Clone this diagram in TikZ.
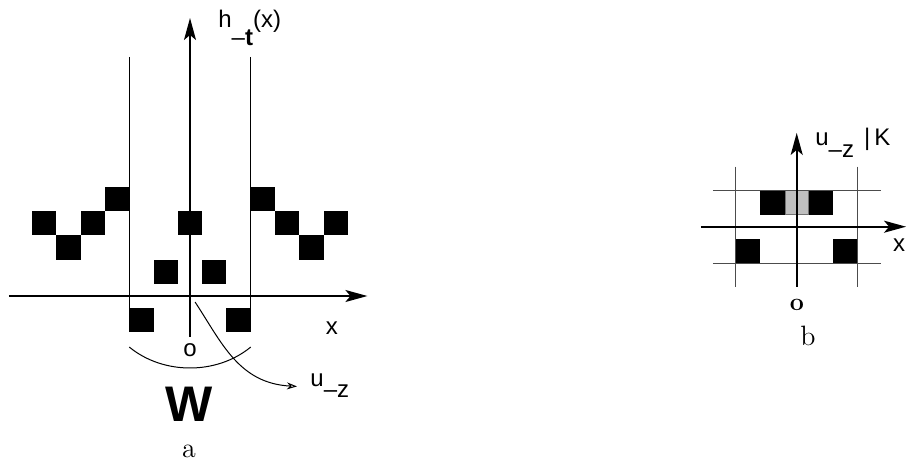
\documentclass[tikz,border=0pt]{standalone}
\usepackage{fontspec}
\newfontfamily\helv{Liberation Sans}
\usetikzlibrary{arrows.meta}

\begin{document}
\begin{tikzpicture}[
  x=12.15pt, y=12.15pt,
  cell/.style={rectangle, fill=black, minimum size=12.15pt, inner sep=0pt},
  paleCell/.style={cell, fill=black!25, draw=black!55, line width=0.4pt, minimum size=11.7pt},
  axis/.style={-{Stealth[length=11pt, width=6pt, inset=2.5pt]}, line width=0.8pt},
  wall/.style={line width=0.7pt},
  gridLine/.style={line width=0.5pt, draw=black!70},
  thinArrow/.style={-{Stealth[length=5pt, width=3.5pt, open]}, line width=0.5pt},
  lbl/.style={font=\helv\fontsize{12}{14}\selectfont, inner sep=0pt},
  caption/.style={font=\fontsize{14}{16}\selectfont, inner sep=0pt}
]
\useasboundingbox (-7.819,-6.790) rectangle (29.547,12.181);

% picture a: the height profile and the window W
\coordinate (yaLow) at (0,-1.68);
\coordinate (yaTop) at (0,11.44);
\coordinate (xaLeft) at (-7.45,0);
\coordinate (xaRight) at (7.3,0);
\coordinate (wallLtop) at (-2.5,9.84);
\coordinate (wallLbot) at (-2.5,-1.5);
\coordinate (wallRtop) at (2.5,9.84);
\coordinate (wallRbot) at (2.5,-1.5);

\node[cell] (aM6) at (-6,3) {};
\node[cell] (aM5) at (-5,2) {};
\node[cell] (aM4) at (-4,3) {};
\node[cell] (aM3) at (-3,4) {};
\node[cell] (aM2) at (-2,-1) {};
\node[cell] (aM1) at (-1,1) {};
\node[cell] (aZero) at (0,3) {};
\node[cell] (aP1) at (1,1) {};
\node[cell] (aP2) at (2,-1) {};
\node[cell] (aP3) at (3,4) {};
\node[cell] (aP4) at (4,3) {};
\node[cell] (aP5) at (5,2) {};
\node[cell] (aP6) at (6,3) {};

\draw[axis] (yaLow) -- (yaTop);
\draw[axis] (xaLeft) -- (xaRight);
\draw[wall] (wallLtop) -- (wallLbot);
\draw[wall] (wallRtop) -- (wallRbot);

\node[lbl, anchor=base west] (hlab) at (1.15,11.07) {h\raisebox{-9pt}{–\textbf{t}}(x)};
\node[lbl] (xlabA) at (5.84,-1.32) {x};
\node[lbl] (olabA) at (0,-2.22) {o};
\node[lbl, anchor=base west] (uza) at (4.94,-3.74) {u\raisebox{-5.5pt}{–z}};
\node[font=\helv\bfseries\fontsize{25}{28}\selectfont, inner sep=0pt] (wlab) at (-0.04,-4.45) {W};
\node[caption] (alab) at (-0.04,-6.4) {a};

\coordinate (arcL) at (-2.5,-2.1);
\coordinate (arcR) at (2.5,-2.1);
\coordinate (uzStart) at (0.21,-0.25);
\coordinate (uzEnd) at (4.40,-3.72);
\draw[line width=0.5pt] (arcL) .. controls (-1.1,-3.25) and (1.1,-3.25) .. (arcR);
\draw[thinArrow] (uzStart) .. controls (1.3,-1.9) and (2.0,-3.6) .. (uzEnd);

% picture b: the cell K round the origin
\begin{scope}[shift={(24.967,2.852)}]
  \node[cell] (bTopL) at (-1,1) {};
  \node[paleCell] (bTopM) at (0,1) {};
  \node[cell] (bTopR) at (1,1) {};
  \node[cell] (bBotL) at (-2,-1) {};
  \node[cell] (bBotR) at (2,-1) {};

  \coordinate (hTopL) at (-3.45,1.5);
  \coordinate (hTopR) at (3.45,1.5);
  \coordinate (hBotL) at (-3.45,-1.5);
  \coordinate (hBotR) at (3.45,-1.5);
  \coordinate (vLtop) at (-2.5,2.47);
  \coordinate (vLbot) at (-2.5,-2.47);
  \coordinate (vRtop) at (2.5,2.47);
  \coordinate (vRbot) at (2.5,-2.47);
  \coordinate (ybLow) at (0,-2.47);
  \coordinate (ybTop) at (0,3.86);
  \coordinate (xbLeft) at (-3.94,0);
  \coordinate (xbRight) at (4.5,0);

  \draw[gridLine] (hTopL) -- (hTopR);
  \draw[gridLine] (hBotL) -- (hBotR);
  \draw[gridLine] (vLtop) -- (vLbot);
  \draw[gridLine] (vRtop) -- (vRbot);
  \draw[axis] (ybLow) -- (ybTop);
  \draw[axis] (xbLeft) -- (xbRight);

  \node[lbl, anchor=base west] (uzb) at (0.75,3.36) {u\raisebox{-6pt}{–z}\hspace{5pt}|\hspace{2pt}K};
  \node[lbl] (xlabB) at (4.21,-0.75) {x};
  \node[font=\fontsize{12.5}{14}\selectfont\bfseries, inner sep=0pt] (olabB) at (0.01,-3.22) {o};
  \node[caption] (blab) at (0.46,-4.5) {b};
\end{scope}
\end{tikzpicture}
\end{document}
